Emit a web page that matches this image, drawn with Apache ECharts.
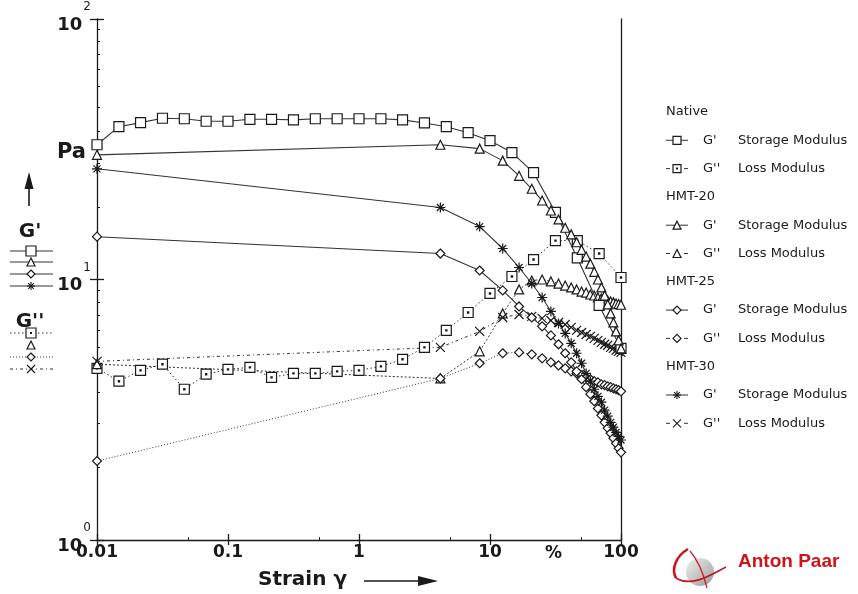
<!DOCTYPE html>
<html>
<head>
<meta charset="utf-8">
<script src="https://cdn.jsdelivr.net/npm/echarts@6/dist/echarts.min.js"></script>
<style>
  html, body { margin: 0; padding: 0; background: #fff; }
  #chart { width: 858px; height: 594px; }
</style>
</head>
<body>
<div id="chart"></div>
<script>
// Amplitude sweep, strain in %.
// Native sample: 6 points per decade; HMT samples: linear steps from 0.01 to 100 %.
const strainNative = [0.01, 0.0147, 0.0215, 0.0316, 0.0464, 0.0681, 0.1, 0.147, 0.215, 0.316, 0.464, 0.681,
  1, 1.47, 2.15, 3.16, 4.64, 6.81, 10, 14.7, 21.5, 31.6, 46.4, 68.1, 100];
const strainHMT = [0.01, 4.18, 8.34, 12.5, 16.67, 20.84, 25, 29.17, 33.34, 37.5, 41.67, 45.84, 50,
  54.17, 58.34, 62.5, 66.67, 70.84, 75, 79.17, 83.34, 87.5, 91.67, 95.84, 100];

// Moduli in Pa
const nativeGp  = [32.9, 38.6, 40.0, 41.6, 41.4, 40.5, 40.5, 41.2, 41.2, 41.0, 41.4, 41.4, 41.4, 41.4, 41.0,
  39.9, 38.6, 36.6, 34.1, 30.7, 25.7, 18.1, 12.1, 7.95, 5.44];
const nativeGpp = [4.56, 4.07, 4.48, 4.73, 3.79, 4.33, 4.52, 4.60, 4.21, 4.36, 4.36, 4.44, 4.48, 4.64, 4.94,
  5.49, 6.38, 7.47, 8.84, 10.27, 11.93, 14.1, 14.1, 12.58, 10.18];
const hmt20Gp   = [30.1, 32.9, 31.8, 28.6, 25.0, 22.3, 20.1, 18.4, 17.0, 15.8, 14.9, 13.9, 13.0, 12.25, 11.5,
  10.7, 10.0, 9.32, 8.68, 8.02, 7.41, 6.84, 6.32, 5.84, 5.44];
const hmt20Gpp  = [4.73, 4.17, 5.30, 7.41, 9.16, 9.91, 10.0, 9.83, 9.65, 9.48, 9.32, 9.16, 8.99, 8.91, 8.76,
  8.68, 8.53, 8.46, 8.38, 8.31, 8.24, 8.17, 8.09, 8.05, 8.0];
const hmt25Gp   = [14.6, 12.58, 10.83, 9.08, 7.88, 7.15, 6.61, 6.10, 5.64, 5.21, 4.81, 4.44, 4.14, 3.86, 3.63,
  3.41, 3.20, 3.01, 2.83, 2.69, 2.57, 2.46, 2.35, 2.25, 2.17];
const hmt25Gpp  = [2.01, 4.17, 4.77, 5.21, 5.25, 5.16, 4.98, 4.81, 4.68, 4.56, 4.44, 4.36, 4.29, 4.21, 4.14,
  4.07, 4.03, 3.96, 3.93, 3.89, 3.86, 3.82, 3.79, 3.76, 3.72];
const hmt30Gp   = [26.6, 18.9, 15.96, 13.15, 11.12, 9.65, 8.53, 7.54, 6.78, 6.21, 5.69, 5.21, 4.77, 4.36, 4.07,
  3.79, 3.56, 3.38, 3.15, 2.99, 2.83, 2.71, 2.59, 2.50, 2.42];
const hmt30Gpp  = [4.85, 5.49, 6.32, 7.15, 7.34, 7.22, 7.09, 6.96, 6.84, 6.72, 6.55, 6.38, 6.26, 6.15, 6.05,
  5.94, 5.84, 5.74, 5.64, 5.59, 5.49, 5.44, 5.35, 5.30, 5.25];

// Axis ticks
const xTicks = [0.01, 0.1, 1, 10, 100];
const xTickLabels = ['0.01', '0.1', '1', '10', '100'];
const xMinorTicks = [0.05, 0.5, 5, 50];
const yTicks = [1, 10, 100];
const yTickExponents = ['0', '1', '2'];

// Legend groups
const groups = ['Native', 'HMT-20', 'HMT-25', 'HMT-30'];

const FONT = 'DejaVu Sans';
const INK = '#1a1a1a';
const LINE = '#333';

const SYM = {
  square: 'rect',
  dotSquare: 'path://M0,0L10,0L10,10L0,10Z M4.4,4.4L5.6,4.4L5.6,5.6L4.4,5.6Z',
  triangle: 'triangle',
  diamond: 'diamond',
  star: 'path://M5,0L5,10M0,5L10,5M1.5,1.5L8.5,8.5M1.5,8.5L8.5,1.5',
  cross: 'path://M0,0L10,10M0,10L10,0'
};

const DOT = [1.5, 2.5];
const FINE = [1, 2];
const DASHDOT = [3, 3, 1, 3];

function pairs(xs, ys) { return xs.map((x, i) => [x, ys[i]]); }

function curve(name, xs, ys, symbol, size, dash, z) {
  return {
    name, type: 'line', xAxisIndex: 0, yAxisIndex: 0,
    data: pairs(xs, ys),
    symbol: SYM[symbol], symbolSize: size,
    showSymbol: true, clip: false, z,
    itemStyle: { color: '#fff', borderColor: INK, borderWidth: 1.2 },
    lineStyle: { color: LINE, width: dash ? 1 : 1.1, type: dash || 'solid' },
    emphasis: { disabled: true }
  };
}

const series = [
  curve("Native G''", strainNative, nativeGpp, 'dotSquare', 10, DOT, 3),
  curve("HMT-20 G''", strainHMT, hmt20Gpp, 'triangle', 9, [2, 2], 3),
  curve("HMT-25 G''", strainHMT, hmt25Gpp, 'diamond', 9, FINE, 3),
  curve("HMT-30 G''", strainHMT, hmt30Gpp, 'cross', 9, DASHDOT, 3),
  curve("Native G'", strainNative, nativeGp, 'square', 10, null, 4),
  curve("HMT-20 G'", strainHMT, hmt20Gp, 'triangle', 9, null, 4),
  curve("HMT-25 G'", strainHMT, hmt25Gp, 'diamond', 9, null, 4),
  curve("HMT-30 G'", strainHMT, hmt30Gp, 'star', 10, null, 4)
];

// ---- hand-drawn legend glyphs ----
function glyph(kind, cx, cy, s) {
  const h = s / 2;
  const st = { fill: '#fff', stroke: INK, lineWidth: 1.2 };
  const out = [];
  if (kind === 'square' || kind === 'dotSquare') {
    out.push({ type: 'rect', shape: { x: cx - h, y: cy - h, width: s, height: s }, style: st });
    if (kind === 'dotSquare') out.push({ type: 'rect', shape: { x: cx - 1, y: cy - 1, width: 2, height: 2 }, style: { fill: INK } });
  } else if (kind === 'triangle') {
    out.push({ type: 'polygon', shape: { points: [[cx, cy - h], [cx + h, cy + h], [cx - h, cy + h]] }, style: st });
  } else if (kind === 'diamond') {
    out.push({ type: 'polygon', shape: { points: [[cx, cy - h], [cx + h, cy], [cx, cy + h], [cx - h, cy]] }, style: st });
  } else if (kind === 'star') {
    const d = h * 0.7;
    [[0, -h, 0, h], [-h, 0, h, 0], [-d, -d, d, d], [-d, d, d, -d]].forEach(p =>
      out.push({ type: 'line', shape: { x1: cx + p[0], y1: cy + p[1], x2: cx + p[2], y2: cy + p[3] }, style: { stroke: INK, lineWidth: 1.1 } }));
  } else if (kind === 'cross') {
    [[-h, -h, h, h], [-h, h, h, -h]].forEach(p =>
      out.push({ type: 'line', shape: { x1: cx + p[0], y1: cy + p[1], x2: cx + p[2], y2: cy + p[3] }, style: { stroke: INK, lineWidth: 1.1 } }));
  }
  return out;
}

function hline(x1, x2, y, dash) {
  return { type: 'line', shape: { x1, y1: y, x2, y2: y }, style: { stroke: LINE, lineWidth: 1, lineDash: dash || null } };
}

function text(str, x, y, opts) {
  return Object.assign({ type: 'text', x, y, style: Object.assign({
    text: str, fontFamily: FONT, fontSize: 13, fill: INK, align: 'left', verticalAlign: 'middle'
  }, opts || {}) });
}

const graphic = [];
const symbolKinds = [['square', 'dotSquare'], ['triangle', 'triangle'], ['diamond', 'diamond'], ['star', 'cross']];
const gppDash = [DOT, [2, 2], FINE, DASHDOT];

// left key: G' (solid) and G'' (dotted)
graphic.push(text('Pa', 57, 153, { fontSize: 21, fontWeight: 'bold' }));
graphic.push({ type: 'line', shape: { x1: 29, y1: 206, x2: 29, y2: 186 }, style: { stroke: INK, lineWidth: 1.6 } });
graphic.push({ type: 'polygon', shape: { points: [[29, 172], [33.5, 189], [24.5, 189]] }, style: { fill: INK } });
graphic.push(text("G'", 30, 232, { fontSize: 20, fontWeight: 'bold', align: 'center' }));
graphic.push(text("G''", 30, 322, { fontSize: 20, fontWeight: 'bold', align: 'center' }));
[251, 262, 274, 286].forEach((y, i) => {
  graphic.push(hline(10, 53, y));
  graphic.push(...glyph(symbolKinds[i][0], 31, y, i === 0 ? 10 : 8));
});
[333, 345, 357, 369].forEach((y, i) => {
  if (i !== 1) graphic.push(hline(10, 53, y, gppDash[i]));
  graphic.push(...glyph(symbolKinds[i][1], 31, y, i === 0 ? 10 : 8));
});

// right key
const rowGap = 28.3;
groups.forEach((g, gi) => {
  const y0 = 112 + gi * 3 * rowGap;
  graphic.push(text(g, 666, y0));
  const y1 = y0 + rowGap, y2 = y0 + 2 * rowGap;
  graphic.push(hline(666, 688, y1));
  graphic.push(...glyph(symbolKinds[gi][0], 677, y1, 8));
  graphic.push(text("G'", 703, y1));
  graphic.push(text('Storage Modulus', 738, y1));
  graphic.push(hline(666, 670, y2));
  graphic.push(hline(684, 688, y2));
  graphic.push(...glyph(symbolKinds[gi][1], 677, y2, 8));
  graphic.push(text("G''", 703, y2));
  graphic.push(text('Loss Modulus', 738, y2));
});

// x-axis title, unit and arrow
graphic.push(text('%', 545, 554, { fontSize: 17, fontWeight: 'bold' }));
graphic.push(text('Strain \u03b3', 258, 580, { fontSize: 20, fontWeight: 'bold' }));
graphic.push({ type: 'line', shape: { x1: 364, y1: 581, x2: 420, y2: 581 }, style: { stroke: INK, lineWidth: 1.4 } });
graphic.push({ type: 'polygon', shape: { points: [[418, 576], [438, 581], [418, 586]] }, style: { fill: INK } });

// Anton Paar mark
graphic.push({ type: 'circle', shape: { cx: 700, cy: 572, r: 14 }, style: {
  fill: new echarts.graphic.LinearGradient(0, 0, 1, 1, [{ offset: 0, color: '#f0f0f0' }, { offset: 1, color: '#9c9c9c' }]) } });
graphic.push({ type: 'bezierCurve', shape: { x1: 688, y1: 549, cpx1: 676, cpy1: 556, cpx2: 671, cpy2: 569, x2: 676, y2: 578 }, style: { stroke: '#c8161d', lineWidth: 2.6, fill: null } });
graphic.push({ type: 'bezierCurve', shape: { x1: 676, y1: 578, cpx1: 692, cpy1: 588, cpx2: 712, cpy2: 574, x2: 726, y2: 567 }, style: { stroke: '#c8161d', lineWidth: 1.8, fill: null } });
graphic.push({ type: 'bezierCurve', shape: { x1: 690, y1: 551, cpx1: 698, cpy1: 560, cpx2: 704, cpy2: 576, x2: 707, y2: 588 }, style: { stroke: '#c8161d', lineWidth: 1.2, fill: null } });
graphic.push(text('Anton Paar', 738, 562, { fontFamily: 'Liberation Sans', fontSize: 19, fontWeight: 'bold', fill: '#d0121b' }));

graphic.forEach(g => { g.z = 100; });

const gridRect = { left: 97, right: 237, top: 19, bottom: 54, outerBoundsMode: 'none' };
const axisInk = { color: INK, width: 1.3 };

function xAxisBase(gridIndex) {
  return {
    gridIndex, type: 'log', logBase: 10, min: 0.01, max: 100, position: 'bottom',
    splitLine: { show: false }, axisLabel: { show: false }, axisLine: { show: false },
    axisTick: { show: false }
  };
}
function yAxisBase(gridIndex, position) {
  return {
    gridIndex, type: 'log', logBase: 10, min: 1, max: 100, position,
    splitLine: { show: false }, axisLabel: { show: false }, axisLine: { show: false },
    axisTick: { show: false }
  };
}

const xMain = Object.assign(xAxisBase(0), {
  axisLine: { show: true, lineStyle: axisInk },
  axisTick: { show: true, inside: false, length: 5, lineStyle: axisInk, customValues: xTicks },
  axisLabel: {
    show: true, customValues: xTicks, margin: 4,
    formatter: v => xTickLabels[xTicks.findIndex(t => Math.abs(t - v) / t < 1e-6)] || '',
    fontFamily: FONT, fontSize: 17, fontWeight: 'bold', color: INK
  }
});
const xInner = Object.assign(xAxisBase(1), {
  axisTick: { show: true, inside: true, length: 6, lineStyle: axisInk, customValues: xTicks }
});
const xMinor = Object.assign(xAxisBase(2), {
  axisTick: { show: true, inside: true, length: 3, lineStyle: { color: INK, width: 1 }, customValues: xMinorTicks }
});

const yMain = Object.assign(yAxisBase(0, 'left'), {
  axisLine: { show: true, lineStyle: axisInk },
  axisTick: { show: true, inside: false, length: 7, lineStyle: axisInk, customValues: yTicks },
  axisLabel: {
    show: true, customValues: yTicks, margin: 6,
    formatter: v => '{b|10}{s|' + yTickExponents[yTicks.findIndex(t => Math.abs(t - v) / t < 1e-6)] + '}',
    rich: {
      b: { fontFamily: FONT, fontSize: 18, fontWeight: 'bold', color: INK, lineHeight: 20, padding: [12, 0, 0, 0] },
      s: { fontFamily: FONT, fontSize: 12, color: INK, lineHeight: 14, padding: [0, 0, 24, 1] }
    }
  }
});
const yInner = Object.assign(yAxisBase(1, 'left'), {
  axisTick: { show: true, inside: true, length: 7, lineStyle: axisInk, customValues: yTicks },
  minorTick: { show: true, splitNumber: 10, length: 3, lineStyle: { color: INK, width: 1 } }
});
const yRight = Object.assign(yAxisBase(2, 'right'), {
  axisLine: { show: true, lineStyle: axisInk }
});

const chart = echarts.init(document.getElementById('chart'), null, { renderer: 'canvas' });
chart.setOption({
  animation: false,
  backgroundColor: '#fff',
  grid: [gridRect, Object.assign({}, gridRect), Object.assign({}, gridRect)],
  xAxis: [xMain, xInner, xMinor],
  yAxis: [yMain, yInner, yRight],
  series,
  graphic
});
</script>
</body>
</html>
